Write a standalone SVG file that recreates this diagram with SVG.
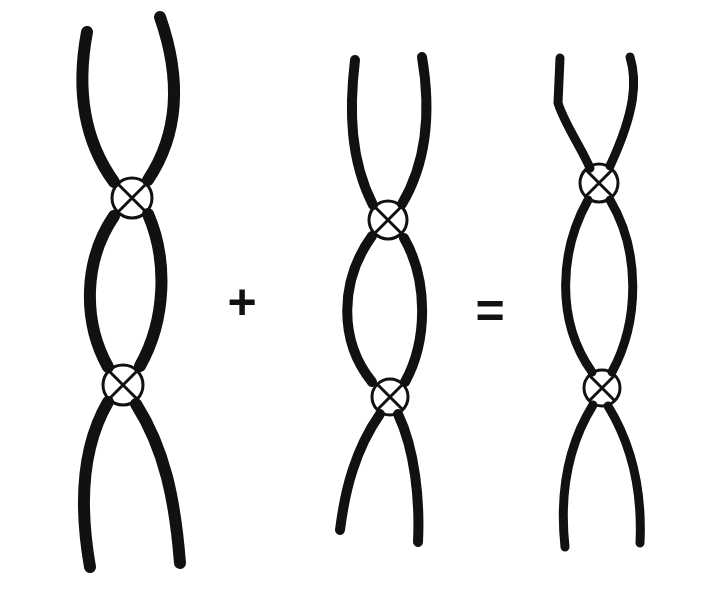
<svg xmlns="http://www.w3.org/2000/svg" width="726" height="591" viewBox="0 0 726 591">
<style>
.arm{fill:none;stroke:#111;stroke-linecap:round;stroke-linejoin:round}
.a1{stroke-width:12}
.a2{stroke-width:10}
.a3{stroke-width:9}
.cen{fill:none;stroke:#111;stroke-width:3}
.op{font-family:"Liberation Sans",Arial,sans-serif;font-weight:bold;font-size:50px;fill:#111;text-anchor:middle}
</style>
<rect width="726" height="591" fill="#fff"/>
<g id="chromosome-left">
<path class="arm a1" d="M87,32 C78,80 80,135 114,182"/>
<path class="arm a1" d="M160,17 C182,80 178,135 148,180"/>
<path class="arm a1" d="M114,216 C84,260 82,320 108,367"/>
<path class="arm a1" d="M148,214 C168,260 166,320 140,366"/>
<path class="arm a1" d="M108,402 C80,450 80,510 90,567"/>
<path class="arm a1" d="M136,404 C165,450 175,500 180,563"/>
<circle class="cen" cx="132" cy="198" r="20"/>
<path class="cen" d="M118,184 L146,212 M146,184 L118,212"/>
<circle class="cen" cx="123" cy="385" r="20"/>
<path class="cen" d="M109,371 L137,399 M137,371 L109,399"/>
</g>
<g id="chromosome-middle">
<path class="arm a2" d="M355,60 C349,110 350,160 373,205"/>
<path class="arm a2" d="M422,57 C431,110 428,160 402,204"/>
<path class="arm a2" d="M372,236 C340,280 338,340 372,382"/>
<path class="arm a2" d="M404,238 C428,280 428,340 405,382"/>
<path class="arm a2" d="M380,414 C355,450 345,490 340,530"/>
<path class="arm a2" d="M398,414 C415,450 420,500 418,542"/>
<circle class="cen" cx="388" cy="220" r="19"/>
<path class="cen" d="M375,207 L401,233 M401,207 L375,233"/>
<circle class="cen" cx="390" cy="397" r="18"/>
<path class="cen" d="M377,384 L403,410 M403,384 L377,410"/>
</g>
<g id="chromosome-right">
<path class="arm a3" d="M560,58 L558,103 C565,125 580,145 590,168"/>
<path class="arm a3" d="M630,57 C637,80 636,110 610,166"/>
<path class="arm a3" d="M588,200 C560,250 555,320 592,372"/>
<path class="arm a3" d="M610,200 C640,250 640,320 612,372"/>
<path class="arm a3" d="M593,405 C565,450 560,500 565,547"/>
<path class="arm a3" d="M608,406 C635,450 642,500 640,543"/>
<circle class="cen" cx="599" cy="183" r="19"/>
<path class="cen" d="M586,170 L612,196 M612,170 L586,196"/>
<circle class="cen" cx="602" cy="388" r="18"/>
<path class="cen" d="M589,375 L615,401 M615,375 L589,401"/>
</g>
<g id="connectors"></g>
<g id="operators">
<text class="op" x="242" y="319">+</text>
<text class="op" x="490" y="328">=</text>
</g>
</svg>
